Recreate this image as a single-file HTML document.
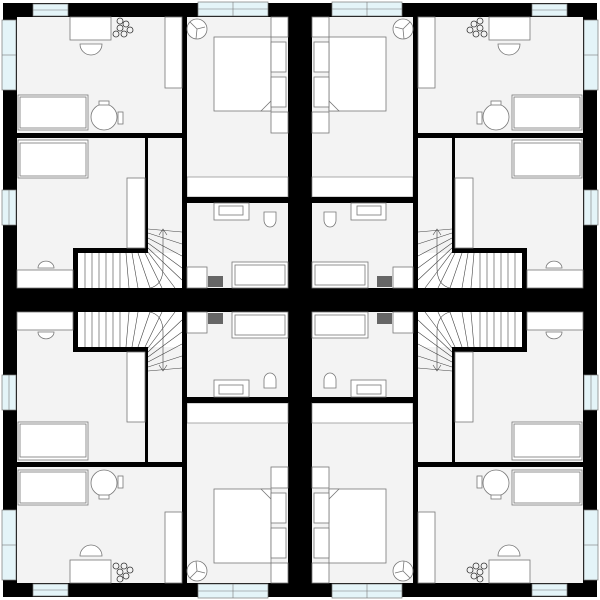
<!DOCTYPE html>
<html><head><style>html,body{margin:0;padding:0;background:#fff}svg{display:block}</style></head>
<body>
<svg width="600" height="600" viewBox="0 0 600 600" xmlns="http://www.w3.org/2000/svg">
<defs>
<g id="q">
  <!-- floors -->
  <rect x="17" y="17" width="165" height="116" fill="#f3f3f3"/>
  <rect x="17" y="138" width="128" height="150" fill="#f3f3f3"/>
  <rect x="187" y="17" width="101" height="160" fill="#f3f3f3"/>
  <rect x="187" y="203" width="101" height="85" fill="#f3f3f3"/>
  <rect x="148" y="138" width="34" height="115" fill="#f3f3f3"/>
  <rect x="187" y="177" width="101" height="20" fill="#fff" stroke="#888" stroke-width="0.7"/>
  <!-- stairs -->
  <rect x="78" y="253" width="104" height="35" fill="#fff"/>
  <g stroke="#444" stroke-width="0.6" fill="none">
    <line x1="85" y1="253" x2="85" y2="288"/><line x1="92" y1="253" x2="92" y2="288"/>
    <line x1="99" y1="253" x2="99" y2="288"/><line x1="106" y1="253" x2="106" y2="288"/>
    <line x1="113" y1="253" x2="113" y2="288"/><line x1="120" y1="253" x2="120" y2="288"/>
    <line x1="126" y1="253" x2="129" y2="288"/><line x1="132" y1="253" x2="138" y2="288"/>
    <line x1="138" y1="253" x2="150" y2="288"/><line x1="145" y1="253" x2="162" y2="288"/>
    <line x1="148" y1="252" x2="175" y2="288"/><line x1="148" y1="248" x2="182" y2="280"/>
    <line x1="148" y1="243" x2="182" y2="268"/><line x1="148" y1="238" x2="182" y2="256"/>
    <line x1="148" y1="233" x2="182" y2="244"/><line x1="148" y1="229" x2="182" y2="232"/>
    <path d="M163 230 L163 268 Q163 285 150 288"/>
    <path d="M159 235 L163 229 L167 235"/>
  </g>
  <!-- walls -->
  <g fill="#000">
    <rect x="17" y="133" width="136" height="5"/>
    <rect x="182" y="17" width="5" height="130"/>
    <rect x="182" y="175" width="5" height="38"/>
    <rect x="182" y="230" width="5" height="58"/>
    <rect x="182" y="197" width="106" height="6"/>
    <rect x="145" y="165" width="3" height="88"/>
    <rect x="73" y="248" width="75" height="5"/>
    <rect x="73" y="248" width="5" height="40"/>
  </g>
  <!-- windows -->
  <g fill="#e4f4f8" stroke="#777" stroke-width="0.7">
    <rect x="33" y="4" width="35" height="12"/>
    <rect x="198" y="2" width="70" height="14"/>
    <rect x="2" y="20" width="14" height="70"/>
    <rect x="2" y="190" width="14" height="35"/>
  </g>
  <g stroke="#777" stroke-width="0.6"><line x1="33" y1="10" x2="68" y2="10"/><line x1="198" y1="9" x2="268" y2="9"/><line x1="233" y1="2" x2="233" y2="16"/><line x1="2" y1="55" x2="16" y2="55"/><line x1="9" y1="190" x2="9" y2="225"/></g>
  <!-- furniture -->
  <g fill="#fff" stroke="#777" stroke-width="0.8">
    <rect x="70" y="17" width="41" height="23"/>
    <path d="M80 44 a10 10 0 0 0 22 0 Z"/>
    <rect x="165" y="17" width="17" height="71"/>
    <rect x="18" y="95" width="70" height="35"/><rect x="20" y="97" width="66" height="31" fill="none"/>
    <circle cx="104" cy="117" r="13"/><rect x="99" y="101" width="10" height="4"/><rect x="118" y="112" width="5" height="12"/>
    <rect x="18" y="140" width="70" height="38"/><rect x="20" y="143" width="66" height="33" fill="none"/>
    <rect x="127" y="178" width="18" height="70"/>
    <rect x="17" y="270" width="56" height="18"/>
    <path d="M38 268 a7 6 0 0 1 16 0 Z"/>
    <rect x="214" y="37" width="57" height="74"/>
    <path d="M261 111 L271 101 L271 111 Z"/>
    <rect x="271" y="42" width="15" height="30"/><rect x="271" y="77" width="15" height="30"/>
    <rect x="271" y="17" width="17" height="20"/><rect x="271" y="112" width="17" height="21"/>
    <circle cx="197" cy="29" r="10"/>
    <path d="M197 29 L190 22 M197 29 L205 27 M197 29 L196 39" fill="none"/>
    <rect x="214" y="203" width="35" height="17"/><rect x="219" y="206" width="24" height="9"/>
    <path d="M264 212 h12 v8 a6 7 0 0 1 -12 0 Z"/>
    <rect x="232" y="262" width="56" height="26"/><rect x="235" y="265" width="50" height="20" fill="none"/>
    <rect x="187" y="267" width="20" height="21"/>
  </g>
  <rect x="208" y="276" width="15" height="11" fill="#666"/>
  <g fill="none" stroke="#333" stroke-width="0.8">
    <circle cx="120" cy="28" r="3"/><circle cx="126" cy="24" r="3"/><circle cx="116" cy="34" r="3"/><circle cx="124" cy="34" r="3"/><circle cx="130" cy="30" r="3"/><circle cx="120" cy="21" r="3"/>
  </g>
</g>
</defs>
<rect width="600" height="600" fill="#000"/>
<rect x="0" y="0" width="600" height="3" fill="#fff"/>
<rect x="0" y="597" width="600" height="3" fill="#fff"/>
<rect x="0" y="0" width="3" height="600" fill="#fff"/>
<rect x="597" y="0" width="3" height="600" fill="#fff"/>
<use href="#q"/>
<use href="#q" transform="translate(600,0) scale(-1,1)"/>
<use href="#q" transform="translate(0,600) scale(1,-1)"/>
<use href="#q" transform="translate(600,600) scale(-1,-1)"/>
</svg>
</body></html>
